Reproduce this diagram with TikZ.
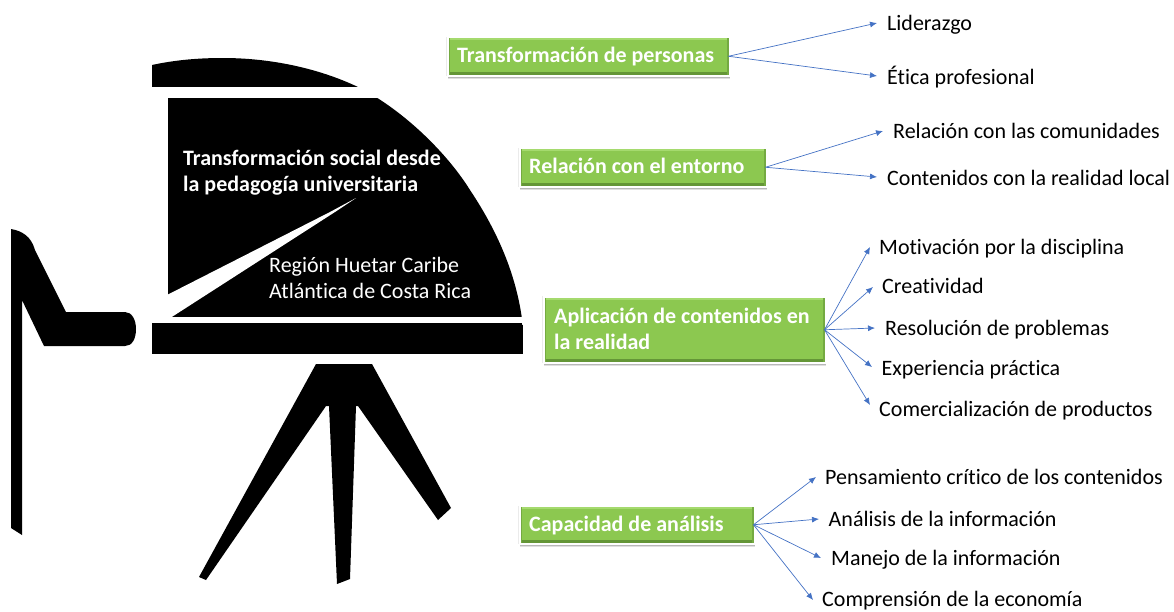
\documentclass[tikz,border=0pt]{standalone}
\usepackage{fontspec}
\setmainfont[Ligatures=NoCommon]{Carlito}
\usetikzlibrary{shadows,arrows.meta}
\definecolor{boxgreen}{RGB}{140,200,80}
\definecolor{boxdark}{RGB}{100,150,55}
\definecolor{boxlight}{RGB}{165,218,110}
\definecolor{linkblue}{RGB}{68,114,196}
\tikzset{
  greenbox/.style={rectangle,draw=white,line width=2.5pt,fill=boxgreen,text=white,
    font=\fontsize{22}{26}\selectfont\bfseries,align=flush left,anchor=north west,inner ysep=0pt,inner xsep=0pt,
    general shadow={shadow xshift=0pt,shadow yshift=0pt,shadow scale=1.012,fill=black,opacity=.08},
    general shadow={shadow xshift=.5pt,shadow yshift=-3.5pt,fill=black,opacity=.12},
    general shadow={shadow xshift=.5pt,shadow yshift=-2pt,fill=black,opacity=.18},
    path picture={
      \draw[boxdark,line width=7pt] (path picture bounding box.south west)--(path picture bounding box.south east);
      \draw[boxlight,line width=6pt] (path picture bounding box.north west)--(path picture bounding box.north east);
      \draw[boxdark!60!boxgreen,line width=5pt] (path picture bounding box.north east)--(path picture bounding box.south east);
      \draw[boxdark!60!boxgreen,line width=5pt] (path picture bounding box.north west)--(path picture bounding box.south west);
    }},
  boxtext/.style={anchor=base west,inner sep=0pt,text=white,font=\fontsize{22}{26}\selectfont\bfseries},
  itemlabel/.style={anchor=base west,inner sep=0pt,text=black,font=\fontsize{22}{24}\selectfont},
  link/.style={draw=linkblue,line width=.7pt,-{Latex[length=7pt,width=6pt]}},
  boardtext/.style={anchor=base west,inner sep=0pt,text=white},
  ink/.style={fill=black,draw=none}
}
\begin{document}
\begin{tikzpicture}[x=1pt,y=-1pt]
\useasboundingbox (0,0) rectangle (1174,611);
% easel, cut by the round frame
\begin{scope}
\clip (152,65) .. controls (175,60) and (198,58) .. (223,58)
  .. controls (270,58) and (318,68) .. (358,87)
  .. controls (400,108) and (445,150) .. (470,190)
  .. controls (500,235) and (518,280) .. (523,327) -- (523,360) -- (152,360) -- cycle;
\fill[ink] (152,40) rectangle (530,87);
\fill[ink] (168,98) rectangle (530,317);
\fill[ink] (152,323) rectangle (523,354);
\end{scope}
\fill[white] (166,295.5) -- (330,212) -- (356,198) -- (335,212) -- (171,317.5) -- (166,317.5) -- cycle;
% tripod
\fill[ink] (316,364) -- (372,364) -- (451,508) -- (438,520) -- (358,406) -- (356,406)
  -- (350,579) -- (337,584) -- (329,406) -- (326,406) -- (206,580) -- (199,577) -- cycle;
% figure
\fill[ink] (11,229) .. controls (22,231) and (31,236) .. (35,250) -- (66,312) -- (125,312)
  .. controls (132,312) and (136,320) .. (136,329) .. controls (136,339) and (132,346) .. (125,346)
  -- (44,346) -- (22,300) -- (22,535) -- (11,528) -- cycle;
% board texts
\node[boardtext,font=\fontsize{22}{26}\selectfont\bfseries] (title1) at (183,165.5) {Transformación social desde};
\node[boardtext,font=\fontsize{22}{26}\selectfont\bfseries] (title2) at (183,191.5) {la pedagogía universitaria};
\node[boardtext,font=\fontsize{22}{26}\selectfont] (region1) at (269,272) {Región Huetar Caribe};
\node[boardtext,font=\fontsize{22}{26}\selectfont] (region2) at (269,298) {Atlántica de Costa Rica};
% boxes
\node[greenbox,minimum width=282pt,minimum height=39pt] (b1) at (446.5,35.5) {};
\node[greenbox,minimum width=247pt,minimum height=39pt] (b2) at (518.5,146.5) {};
\node[greenbox,minimum width=282pt,minimum height=66pt] (b3) at (542.5,295.5) {};
\node[greenbox,minimum width=235pt,minimum height=38pt] (b4) at (518.5,504.5) {};
\node[boxtext] (t1) at (457,62) {Transformación de personas};
\node[boxtext] (t2) at (529,173.5) {Relación con el entorno};
\node[boxtext] (t3) at (554,323) {Aplicación de contenidos en};
\node[boxtext] (t3b) at (554,349) {la realidad};
\node[boxtext] (t4) at (529,531) {Capacidad de análisis};
% items
\node[itemlabel] (a1) at (887,30) {Liderazgo};
\node[itemlabel] (a2) at (887,84) {Ética profesional};
\node[itemlabel] (c1) at (893,138.5) {Relación con las comunidades};
\node[itemlabel] (c2) at (887,185) {Contenidos con la realidad local};
\node[itemlabel] (d1) at (879,254) {Motivación por la disciplina};
\node[itemlabel] (d2) at (882,293) {Creatividad};
\node[itemlabel] (d3) at (885,335.5) {Resolución de problemas};
\node[itemlabel] (d4) at (881.5,375) {Experiencia práctica};
\node[itemlabel] (d5) at (879,416) {Comercialización de productos};
\node[itemlabel] (e1) at (825,484) {Pensamiento crítico de los contenidos};
\node[itemlabel] (e2) at (828.5,526) {Análisis de la información};
\node[itemlabel] (e3) at (831,565) {Manejo de la información};
\node[itemlabel] (e4) at (822,606) {Comprensión de la economía};
% arrow tips
\coordinate (ta1) at (877,23);
\coordinate (ta2) at (877,76);
\coordinate (tc1) at (883,131);
\coordinate (tc2) at (877,177);
\coordinate (td1) at (870,247);
\coordinate (td2) at (873,287);
\coordinate (td3) at (875,328);
\coordinate (td4) at (872,367);
\coordinate (td5) at (870,405);
\coordinate (te1) at (816,477);
\coordinate (te2) at (819,519);
\coordinate (te3) at (821,558);
\coordinate (te4) at (813,600);
% links
\foreach \s/\t in {b1/ta1,b1/ta2,b2/tc1,b2/tc2,b3/td1,b3/td2,b3/td3,b3/td4,b3/td5,b4/te1,b4/te2,b4/te3,b4/te4}
  \draw[link] ([xshift=-2.5pt]\s.east) -- (\t);
\end{tikzpicture}
\end{document}
